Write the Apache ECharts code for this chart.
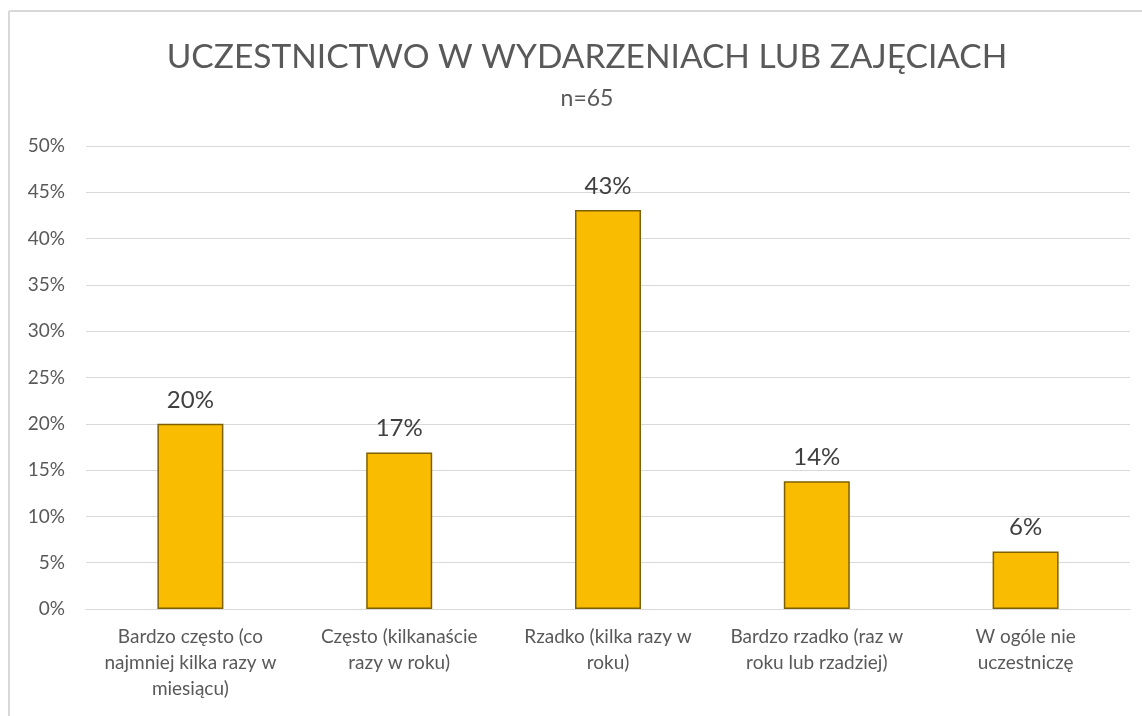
<!DOCTYPE html>
<html>
<head>
<meta charset="utf-8">
<script src="https://cdn.jsdelivr.net/npm/echarts@6/dist/echarts.min.js"></script>
<style>
  html, body { margin: 0; padding: 0; background: #fff; }
  #chart { width: 1142px; height: 716px; }
</style>
</head>
<body>
<div id="chart"></div>
<script>
// dane wykresu
const categories = [
  'Bardzo często (co\nnajmniej kilka razy w\nmiesiącu)',
  'Często (kilkanaście\nrazy w roku)',
  'Rzadko (kilka razy w\nroku)',
  'Bardzo rzadko (raz w\nroku lub rzadziej)',
  'W ogóle nie\nuczestniczę'
]
const values = [20.0, 16.9, 43.1, 13.8, 6.2]
const titleText = 'UCZESTNICTWO W WYDARZENIACH LUB ZAJĘCIACH'
const subtitleText = 'n=65'

const font = 'Lato, "Open Sans", sans-serif'
const chart = echarts.init(document.getElementById('chart'))
chart.setOption({
  animation: false,
  textStyle: { fontFamily: font },
  title: {
    text: titleText,
    subtext: subtitleText,
    left: 582,
    top: 35,
    textAlign: 'center',
    itemGap: 13,
    textStyle: { fontSize: 33.5, fontWeight: 'normal', color: '#595959', fontFamily: font },
    subtextStyle: { fontSize: 23, color: '#595959', fontFamily: font }
  },
  graphic: [
    { type: 'line', shape: { x1: 9, y1: 11, x2: 1142, y2: 11 }, style: { stroke: '#d9d9d9', lineWidth: 2 } },
    { type: 'line', shape: { x1: 9, y1: 11, x2: 9, y2: 716 }, style: { stroke: '#d9d9d9', lineWidth: 2 } }
  ],
  grid: { left: 86, right: 12, top: 146, bottom: 107 },
  xAxis: {
    type: 'category',
    data: categories,
    axisTick: { show: false },
    axisLine: { lineStyle: { color: '#d9d9d9', width: 1 } },
    axisLabel: { color: '#595959', fontSize: 19, lineHeight: 26, margin: 15, interval: 0, fontFamily: font }
  },
  yAxis: {
    type: 'value',
    min: 0,
    max: 50,
    interval: 5,
    axisLine: { show: false },
    axisTick: { show: false },
    splitLine: { lineStyle: { color: '#d9d9d9', width: 1 } },
    axisLabel: { formatter: '{value}%', color: '#595959', fontSize: 19, margin: 21, fontFamily: font }
  },
  series: [{
    type: 'bar',
    data: values,
    barWidth: 66,
    itemStyle: { color: '#F9BC00', borderColor: '#7F6000', borderWidth: 1.5 },
    label: {
      show: true,
      position: 'top',
      distance: 12,
      formatter: p => Math.round(p.value) + '%',
      color: '#404040',
      fontSize: 24,
      fontFamily: font
    }
  }]
})
</script>
</body>
</html>
